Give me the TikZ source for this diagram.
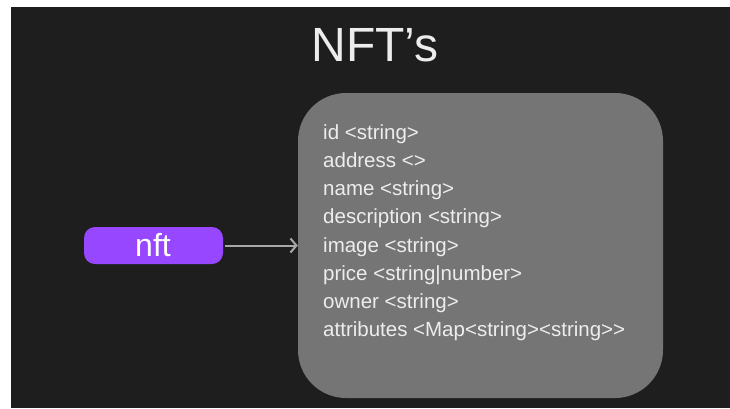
\documentclass[tikz,border=0pt]{standalone}
\usepackage{fontspec}
\setmainfont{Liberation Sans}[Ligatures=ResetAll]
\usetikzlibrary{arrows.meta}
\definecolor{bgdark}{HTML}{1E1E1E}
\definecolor{boxgray}{HTML}{757575}
\definecolor{nftpurple}{HTML}{9747FF}
\definecolor{lightfg}{HTML}{EDEDED}
\definecolor{arrowgray}{HTML}{A8A8A8}
\tikzset{
  px/.style={x=1pt,y=-1pt},
  field/.style={anchor=base west,text=lightfg,font=\fontsize{20.5}{24}\selectfont,inner sep=0pt},
  pill/.style={fill=nftpurple,rounded corners=11pt,minimum width=139pt,minimum height=37pt,inner sep=0pt},
}
\begin{document}
\begin{tikzpicture}[px]
  \useasboundingbox (0,0) rectangle (730,408);
  \fill[white] (0,0) rectangle (730,408);
  \fill[bgdark] (11,7) rectangle (730,408);
  % title
  \node[anchor=base,text=lightfg,font=\fontsize{48}{52}\selectfont,inner sep=0pt] (title) at (375,61.7) {NFT’s};
  % record box
  \node[fill=boxgray,rounded corners=48pt,minimum width=365pt,minimum height=305pt,inner sep=0pt]
    (rec) at (480.5,245.5) {};
  % fields, one per line ({} keeps the closing brackets apart)
  \foreach \t [count=\i from 0] in {id <string>, address <>, name <string>,
      description <string>, image <string>, price <string|number>, owner <string>,
      attributes <{}Map<{}string>{}<{}string>{}>}
    \node[field] (f\i) at (323,139+28.25*\i) {\t};
  % source node
  \node[pill] (nft) at (153.5,245.5) {};
  \node[anchor=base,text=white,font=\fontsize{32}{34}\selectfont,inner sep=0pt] (nftlabel) at (153,256.5) {nft};
  \draw[arrowgray,line width=2pt,-{Straight Barb[length=6pt,width=14pt,line width=2pt]}]
    (nft.east) ++(2,0) coordinate (a0) -- (rec.west |- a0);
\end{tikzpicture}
\end{document}
